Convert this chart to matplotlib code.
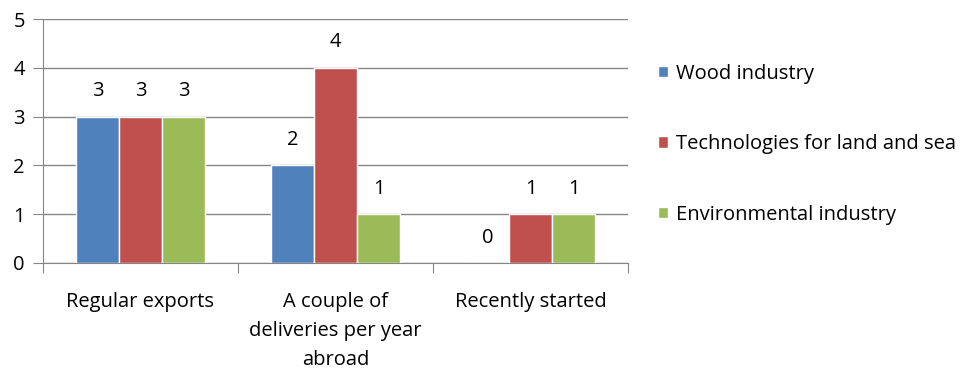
import numpy as np
import matplotlib.pyplot as plt

plt.rcParams['font.family'] = ['Open Sans', 'DejaVu Sans']

categories = ['Regular exports', 'A couple of\ndeliveries per year\nabroad', 'Recently started']
series = ['Wood industry', 'Technologies for land and sea', 'Environmental industry']
values = [
    [3, 2, 0],
    [3, 4, 1],
    [3, 1, 1],
]
colors = ['#4f81bd', '#c0504d', '#9bbb59']

fig = plt.figure(figsize=(9.61, 3.73), dpi=100)
ax = fig.add_axes([0.0447, 0.295, 0.609, 0.654])

x = np.arange(len(categories))
w = 0.22
grid_c = '#868686'
fs = 14.5

for i, (name, vals, c) in enumerate(zip(series, values, colors)):
    pos = x + (i - 1) * w
    bars = ax.bar(pos, vals, w, color=c, edgecolor='white', linewidth=1.0,
                  label=name, zorder=3)
    for xp, v in zip(pos, vals):
        ax.text(xp, v + 0.52, str(v), ha='center', va='center', fontsize=fs,
                zorder=4)

ax.set_xlim(-0.5, 2.5)
ax.set_ylim(0, 5)
ax.set_yticks(range(6))
ax.yaxis.grid(True, color=grid_c, linewidth=1.0, zorder=0)
ax.tick_params(axis='y', length=7, color=grid_c, labelsize=fs, pad=6)

# ticks between categories, labels centred under each group
ax.set_xticks([-0.5, 0.5, 1.5, 2.5])
ax.set_xticklabels([])
ax.set_xticks(x, minor=True)
ax.set_xticklabels(categories, minor=True, fontsize=fs, linespacing=1.6,
                   va='top')
ax.tick_params(axis='x', which='major', length=7, color=grid_c)
ax.tick_params(axis='x', which='minor', length=0, pad=21)

for s in ['top', 'right']:
    ax.spines[s].set_visible(False)
for s in ['left', 'bottom']:
    ax.spines[s].set_color(grid_c)

ax.legend(loc='center left', bbox_to_anchor=(1.02, 0.487), frameon=False,
          fontsize=fs, handlelength=0.5, handleheight=0.5, handletextpad=0.4,
          labelspacing=2.5)

fig.savefig('out.png', dpi=100)
